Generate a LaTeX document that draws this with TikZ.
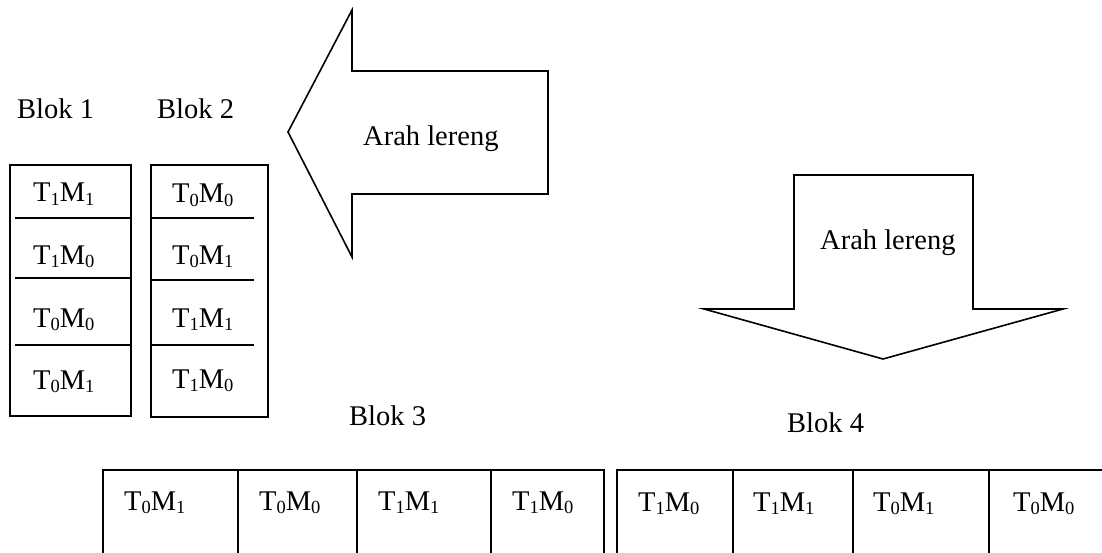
\documentclass[tikz,border=0pt]{standalone}
\usepackage{fontspec}
\setmainfont{Liberation Serif}
\newcommand{\sbx}[1]{\raisebox{-0.14em}{\fontsize{18.5}{18.5}\selectfont #1}}
\newcommand{\tm}[2]{T\sbx{#1}M\sbx{#2}}
\begin{document}
\begin{tikzpicture}[x=1pt,y=-1pt,
  ln/.style={line width=1.6pt, line join=miter},
  txt/.style={anchor=base west, inner sep=0pt, font=\fontsize{28.5}{33}\selectfont}]
\useasboundingbox (0,0) rectangle (1102,553);
\clip (0,0) rectangle (1102,553);
% Blok 1
\node[txt] (b1) at (17,119) {Blok 1};
\draw[ln] (10,165) rectangle (131,416);
\draw[ln] (15,218) -- (131,218);
\draw[ln] (15,278) -- (131,278);
\draw[ln] (15,345) -- (131,345);
\node[txt] (c11) at (33,202) {\tm{1}{1}};
\node[txt] (c12) at (33,264) {\tm{1}{0}};
\node[txt] (c13) at (33,327) {\tm{0}{0}};
\node[txt] (c14) at (33,389) {\tm{0}{1}};
% Blok 2
\node[txt] (b2) at (157,119) {Blok 2};
\draw[ln] (151,165) rectangle (268,417);
\draw[ln] (151,218) -- (254,218);
\draw[ln] (151,280) -- (254,280);
\draw[ln] (151,345) -- (254,345);
\node[txt] (c21) at (172,203) {\tm{0}{0}};
\node[txt] (c22) at (172,264) {\tm{0}{1}};
\node[txt] (c23) at (172,327) {\tm{1}{1}};
\node[txt] (c24) at (172,388) {\tm{1}{0}};
% left arrow
\draw[ln] (288,132) -- (352,10) -- (352,71) -- (548,71) -- (548,194) -- (352,194) -- (352,257) -- cycle;
\node[txt] (a1) at (363,146) {Arah lereng};
% down arrow
\draw[ln] (794,175) -- (973,175) -- (973,309) -- (1063,309) -- (883,359) -- (704,309) -- (794,309) -- cycle;
\node[txt] (a2) at (820,250) {Arah lereng};
% Blok 3
\node[txt] (b3) at (349,425) {Blok 3};
\draw[ln] (103,470) rectangle (604,570);
\draw[ln] (238,470) -- (238,570);
\draw[ln] (357,470) -- (357,570);
\draw[ln] (491,470) -- (491,570);
\node[txt] (c31) at (124,510) {\tm{0}{1}};
\node[txt] (c32) at (259,510) {\tm{0}{0}};
\node[txt] (c33) at (378,510) {\tm{1}{1}};
\node[txt] (c34) at (512,510) {\tm{1}{0}};
% Blok 4
\node[txt] (b4) at (787,432) {Blok 4};
\draw[ln] (617,470) rectangle (1120,570);
\draw[ln] (733,470) -- (733,570);
\draw[ln] (853,470) -- (853,570);
\draw[ln] (989,470) -- (989,570);
\node[txt] (c41) at (638,511) {\tm{1}{0}};
\node[txt] (c42) at (753,511) {\tm{1}{1}};
\node[txt] (c43) at (873,511) {\tm{0}{1}};
\node[txt] (c44) at (1013,511) {\tm{0}{0}};
\end{tikzpicture}
\end{document}
